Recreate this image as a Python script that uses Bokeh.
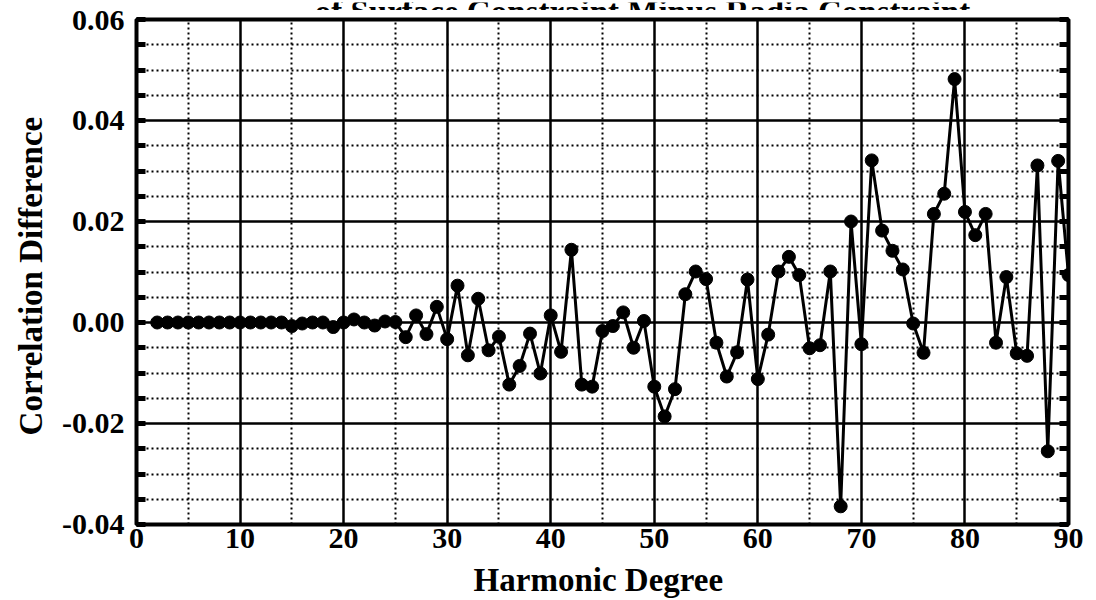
from bokeh.plotting import figure
from bokeh.layouts import column
from bokeh.models import FixedTicker, PrintfTickFormatter, LinearAxis, Range1d, Label
from bokeh.embed import file_html
from bokeh.resources import INLINE

# ---- data ----
degree = list(range(2, 91))
corr_diff = [
    0.0000, 0.0000, 0.0000, 0.0000, 0.0000, 0.0000, 0.0000, 0.0000,   # 2-9
    0.0000, 0.0000, 0.0000, 0.0000, 0.0000, -0.0007, -0.0002, 0.0000,  # 10-17
    0.0000, -0.0009, 0.0000, 0.0006, 0.0000, -0.0006, 0.0002, 0.0001,  # 18-25
    -0.0029, 0.0014, -0.0023, 0.0031, -0.0033,                         # 26-30
    0.0073, -0.0065, 0.0047, -0.0055, -0.0028,                         # 31-35
    -0.0123, -0.0086, -0.0022, -0.0101, 0.0014,                        # 36-40
    -0.0058, 0.0144, -0.0123, -0.0127, -0.0017,                        # 41-45
    -0.0007, 0.0020, -0.0050, 0.0003, -0.0127,                         # 46-50
    -0.0186, -0.0132, 0.0056, 0.0101, 0.0086,                          # 51-55
    -0.0040, -0.0107, -0.0059, 0.0085, -0.0112,                        # 56-60
    -0.0024, 0.0101, 0.0130, 0.0094, -0.0051,                          # 61-65
    -0.0045, 0.0101, -0.0364, 0.0200, -0.0043,                         # 66-70
    0.0321, 0.0182, 0.0142, 0.0105, -0.0002,                           # 71-75
    -0.0060, 0.0215, 0.0255, 0.0482, 0.0219,                           # 76-80
    0.0173, 0.0215, -0.0040, 0.0090, -0.0061,                          # 81-85
    -0.0066, 0.0311, -0.0255, 0.0320, 0.0094,                          # 86-90
]

x_major = [0, 10, 20, 30, 40, 50, 60, 70, 80, 90]
x_minor = [5, 15, 25, 35, 45, 55, 65, 75, 85]
y_major = [-0.04, -0.02, 0.0, 0.02, 0.04, 0.06]
y_minor = [-0.035, -0.03, -0.025, -0.015, -0.01, -0.005,
           0.005, 0.01, 0.015, 0.025, 0.03, 0.035, 0.045, 0.05, 0.055]

title_text = "of Surface Constraint Minus Radia Constraint"
x_title = "Harmonic  Degree"
y_title = "Correlation  Difference"

FONT = "Liberation Serif"

# ---- strip holding the (top-cut) title line, as in the reference ----
t = figure(width=1096, height=10, output_backend="svg", toolbar_location=None,
           x_range=Range1d(0, 1096), y_range=Range1d(0, 10),
           x_axis_type=None, y_axis_type=None, min_border=0)
t.outline_line_color = None
t.grid.visible = False
t.border_fill_color = "white"
t.background_fill_color = "white"
t.add_layout(Label(x=595, y=0.4, text=title_text, text_align="center",
                   text_baseline="alphabetic", text_font=FONT,
                   text_font_style="bold", text_font_size="33px", text_color="black"))

# ---- main chart ----
p = figure(width=1096, height=590, output_backend="svg", toolbar_location=None,
           x_range=Range1d(0, 90), y_range=Range1d(-0.04, 0.06),
           min_border_left=136, min_border_right=28, min_border_top=9,
           min_border_bottom=74)
p.background_fill_color = "white"
p.border_fill_color = "white"
p.outline_line_color = "black"
p.outline_line_width = 4

# grids
p.xgrid.ticker = FixedTicker(ticks=x_major, minor_ticks=x_minor)
p.xgrid.grid_line_color = "black"
p.xgrid.grid_line_width = 2.5
p.xgrid.grid_line_alpha = 1
p.xgrid.minor_grid_line_color = "black"
p.xgrid.minor_grid_line_width = 2
p.xgrid.minor_grid_line_dash = "2 3"

p.ygrid.ticker = FixedTicker(ticks=y_major, minor_ticks=y_minor)
p.ygrid.grid_line_color = "black"
p.ygrid.grid_line_width = 2.5
p.ygrid.grid_line_alpha = 1
p.ygrid.minor_grid_line_color = "black"
p.ygrid.minor_grid_line_width = 2
p.ygrid.minor_grid_line_dash = "2 3"

# x axis
xa = p.xaxis[0]
xa.ticker = FixedTicker(ticks=x_major)
xa.major_tick_in = 0
xa.major_tick_out = 0
xa.minor_tick_in = 0
xa.minor_tick_out = 0
xa.axis_line_width = 3
xa.major_label_standoff = 4
xa.major_label_text_font = FONT
xa.major_label_text_font_style = "bold"
xa.major_label_text_font_size = "30px"
xa.major_label_text_color = "black"
xa.axis_label = x_title
xa.axis_label_text_font = FONT
xa.axis_label_text_font_style = "bold"
xa.axis_label_text_font_size = "33px"
xa.axis_label_text_color = "black"
xa.axis_label_standoff = 11

# y axis (left)
ya = p.yaxis[0]
ya.ticker = FixedTicker(ticks=y_major, minor_ticks=y_minor)
ya.formatter = PrintfTickFormatter(format="%.2f")
ya.major_tick_in = 9
ya.major_tick_out = 0
ya.minor_tick_in = 9
ya.minor_tick_out = 0
ya.major_tick_line_width = 5
ya.minor_tick_line_width = 5
ya.axis_line_width = 3
ya.major_label_standoff = 12
ya.major_label_text_font = FONT
ya.major_label_text_font_style = "bold"
ya.major_label_text_font_size = "30px"
ya.major_label_text_color = "black"
ya.axis_label = y_title
ya.axis_label_text_font = FONT
ya.axis_label_text_font_style = "bold"
ya.axis_label_text_font_size = "33px"
ya.axis_label_text_color = "black"
ya.axis_label_standoff = 10

# right axis: inward ticks only, no labels
ra = LinearAxis(ticker=FixedTicker(ticks=[], minor_ticks=y_major + y_minor),
                major_tick_in=0, major_tick_out=0, minor_tick_in=9, minor_tick_out=0,
                minor_tick_line_width=5, axis_line_width=3)
p.add_layout(ra, "right")

# series
p.line(degree, corr_diff, line_color="black", line_width=3)
p.scatter(degree, corr_diff, size=13, fill_color="black", line_color="black")

layout = column(t, p, spacing=0)
open("out.html", "w").write(file_html(layout, INLINE))
